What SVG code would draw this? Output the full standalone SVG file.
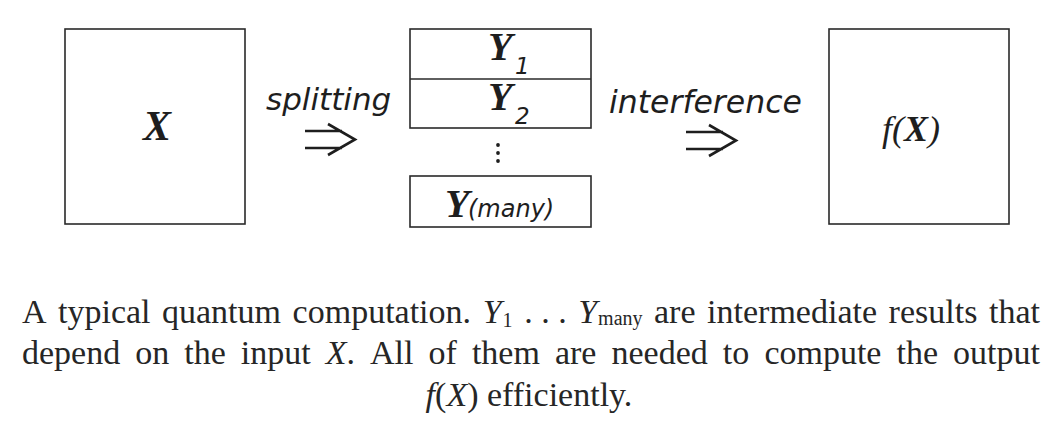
<svg xmlns="http://www.w3.org/2000/svg" width="1058" height="429" viewBox="0 0 1058 429">
<style>
.box{fill:#fff;stroke:#2a2a2a;stroke-width:1.6}
.serifbi{font-family:"Liberation Serif",serif;font-weight:bold;font-style:italic;fill:#1e1e1e}
.sanso{font-family:"DejaVu Sans",Verdana,sans-serif;font-style:italic;fill:#1e1e1e}
.arr{fill:none;stroke:#1e1e1e;stroke-width:2.6;stroke-linecap:butt;stroke-linejoin:miter}
.cap{font-family:"Liberation Serif",serif;font-size:34px;fill:#262626}
.it{font-style:italic}
.sub{font-size:20px}
</style>
<rect width="1058" height="429" fill="#fff"/>
<g id="node-x">
<rect class="box" x="65" y="29" width="180" height="195"/>
<text class="serifbi" x="157" y="140" font-size="42" text-anchor="middle">X</text>
</g>
<g id="node-y">
<rect class="box" x="410" y="29" width="181" height="99"/>
<line x1="410" y1="79" x2="591" y2="79" stroke="#2a2a2a" stroke-width="1.6"/>
<text class="serifbi" x="488" y="60" font-size="40">Y</text>
<text class="sanso" x="515" y="74" font-size="23">1</text>
<text class="serifbi" x="488" y="110" font-size="40">Y</text>
<text class="sanso" x="515" y="124" font-size="23">2</text>
<circle cx="498" cy="145" r="1.9" fill="#1e1e1e"/>
<circle cx="498" cy="153" r="1.9" fill="#1e1e1e"/>
<circle cx="498" cy="161" r="1.9" fill="#1e1e1e"/>
<rect class="box" x="410" y="176" width="181" height="51"/>
<text class="serifbi" x="445" y="217" font-size="40">Y</text>
<text class="sanso" x="468" y="217" font-size="24">(many)</text>
</g>
<g id="node-fx">
<rect class="box" x="829" y="29" width="180" height="195"/>
<text x="911" y="141" font-size="36" text-anchor="middle" font-family="Liberation Serif, serif" font-style="italic" fill="#1e1e1e">f(<tspan font-weight="bold">X</tspan>)</text>
</g>
<g id="connectors">
<text class="sanso" x="266" y="110" font-size="31">splitting</text>
<path class="arr" d="M305 131H342M305 148H342M328 124L355 139.5L328 155"/>
<text class="sanso" x="609" y="113" font-size="31.5">interference</text>
<path class="arr" d="M686 132H723M686 149H723M709 125L736 140.5L709 156"/>
</g>
<g id="caption">
<text class="cap" y="323"><tspan x="22">A</tspan><tspan x="58">typical</tspan><tspan x="162">quantum</tspan><tspan x="292.6">computation.</tspan><tspan class="it" x="482.7">Y</tspan><tspan class="sub" x="502.6" dy="4">1</tspan><tspan x="524.2" dy="-4">. . .</tspan><tspan class="it" x="578.2">Y</tspan><tspan class="sub" x="598.1" dy="2">many</tspan><tspan x="654" dy="-2">are</tspan><tspan x="707.1">intermediate</tspan><tspan x="888.6">results</tspan><tspan x="989">that</tspan></text>
<text class="cap" y="364"><tspan x="22">depend</tspan><tspan x="135.2">on</tspan><tspan x="184.3">the</tspan><tspan x="240.8">input</tspan><tspan class="it" x="325.7">X</tspan><tspan>.</tspan><tspan x="370">All</tspan><tspan x="428.6">of</tspan><tspan x="471.9">them</tspan><tspan x="554.9">are</tspan><tspan x="611.5">needed</tspan><tspan x="722.8">to</tspan><tspan x="764.4">compute</tspan><tspan x="896.5">the</tspan><tspan x="953">output</tspan></text>
<text class="cap" y="406" x="529" text-anchor="middle"><tspan class="it">f</tspan>(<tspan class="it">X</tspan>) efficiently.</text>
</g>
</svg>
